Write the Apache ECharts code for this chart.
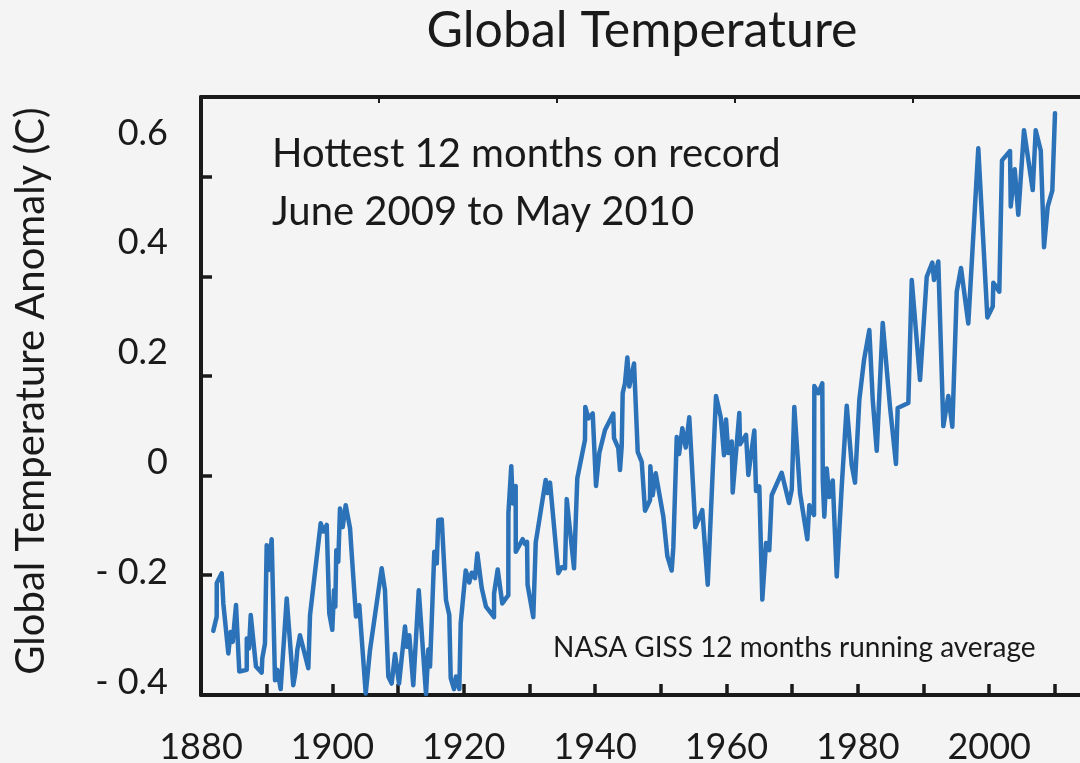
<!DOCTYPE html>
<html>
<head>
<meta charset="utf-8">
<script src="https://cdn.jsdelivr.net/npm/echarts@6/dist/echarts.min.js"></script>
<style>
html,body{margin:0;padding:0;background:#f4f4f4;}
#c{width:1080px;height:763px;}
</style>
</head>
<body>
<div id="c"></div>
<script>
const years = [
1881.87,1882.39,1882.40,1883.15,1883.40,1884.16,1884.52,1884.83,1885.33,1885.83,
1886.96,1886.97,1887.31,1887.57,1888.37,1889.24,1889.33,1889.74,1890.00,1890.25,
1890.76,1891.27,1891.62,1892.13,1893.05,1894.05,1894.36,1894.66,1895.07,1896.34,
1896.60,1898.22,1898.62,1899.14,1899.53,1899.99,1900.25,1900.45,1900.60,1900.90,
1901.16,1901.57,1902.03,1902.69,1902.94,1903.60,1904.10,1905.08,1905.73,1907.51,
1908.01,1908.52,1909.03,1909.54,1910.15,1911.06,1911.32,1911.71,1912.32,1913.15,
1914.26,1914.61,1914.87,1915.52,1915.89,1916.13,1916.65,1917.30,1917.80,1918.02,
1918.52,1918.82,1919.33,1919.54,1920.30,1920.85,1921.21,1921.72,1922.07,1922.74,
1923.39,1924.61,1924.62,1925.17,1925.87,1926.79,1926.80,1927.24,1927.46,1927.91,
1927.92,1928.98,1929.33,1929.64,1929.72,1930.59,1930.96,1932.48,1932.72,1933.14,
1934.40,1934.92,1935.42,1935.68,1936.79,1937.29,1938.46,1938.51,1938.97,1939.64,
1940.14,1940.64,1941.51,1942.77,1942.88,1943.53,1943.79,1944.05,1944.20,1944.55,
1944.91,1945.21,1945.93,1946.49,1947.10,1947.60,1948.36,1948.41,1948.77,1949.23,
1950.39,1951.00,1951.66,1951.91,1952.43,1952.78,1953.28,1953.80,1954.34,1955.26,
1956.32,1957.15,1958.41,1959.13,1959.63,1959.93,1960.28,1960.80,1960.95,1961.96,
1962.06,1962.98,1963.33,1964.24,1964.50,1965.00,1965.46,1966.02,1966.52,1966.89,
1968.41,1969.52,1969.94,1970.33,1971.20,1972.31,1972.62,1973.33,1973.38,1973.98,
1974.59,1974.67,1974.90,1975.26,1975.66,1976.18,1976.79,1977.55,1978.31,1979.07,
1979.57,1980.23,1980.94,1981.75,1982.27,1982.88,1983.79,1984.90,1985.81,1986.07,
1987.69,1988.21,1989.47,1990.49,1991.34,1991.60,1992.25,1993.02,1993.78,1994.39,
1995.06,1995.71,1996.82,1998.34,1999.72,2000.54,2000.63,2001.54,2001.95,2003.17,
2003.28,2003.89,2004.43,2005.30,2006.63,2007.08,2007.85,2008.35,2008.91,2009.61,
2010.02
];
const anomalies = [
-0.306,-0.280,-0.219,-0.201,-0.256,-0.347,-0.308,-0.326,-0.259,-0.380,
-0.377,-0.320,-0.338,-0.277,-0.371,-0.382,-0.356,-0.329,-0.150,-0.195,
-0.139,-0.396,-0.377,-0.412,-0.247,-0.405,-0.383,-0.341,-0.314,-0.374,
-0.277,-0.110,-0.125,-0.113,-0.274,-0.304,-0.232,-0.262,-0.159,-0.180,
-0.083,-0.117,-0.077,-0.119,-0.165,-0.280,-0.259,-0.420,-0.341,-0.192,
-0.232,-0.389,-0.402,-0.348,-0.402,-0.298,-0.335,-0.314,-0.405,-0.232,
-0.421,-0.340,-0.371,-0.162,-0.183,-0.104,-0.103,-0.250,-0.277,-0.392,
-0.412,-0.389,-0.412,-0.292,-0.196,-0.218,-0.200,-0.210,-0.165,-0.228,
-0.262,-0.281,-0.238,-0.194,-0.256,-0.241,-0.092,-0.006,-0.074,-0.042,
-0.162,-0.139,-0.148,-0.144,-0.222,-0.281,-0.145,-0.031,-0.055,-0.036,
-0.201,-0.190,-0.192,-0.066,-0.192,-0.028,0.042,0.102,0.081,0.090,
-0.042,0.018,0.060,0.090,0.045,0.027,-0.013,0.030,0.127,0.145,
0.192,0.139,0.181,0.020,0.002,-0.087,-0.068,-0.006,-0.059,-0.019,
-0.098,-0.170,-0.196,-0.154,0.047,0.016,0.063,0.028,0.083,-0.117,
-0.086,-0.222,0.122,0.083,0.014,0.079,0.018,0.039,-0.054,0.091,
0.034,0.051,-0.022,0.059,-0.051,-0.043,-0.249,-0.146,-0.159,-0.059,
-0.018,-0.073,-0.049,0.102,-0.055,-0.139,-0.077,-0.095,0.140,0.127,
0.145,-0.034,-0.098,-0.010,-0.062,-0.032,-0.207,-0.043,0.104,-0.004,
-0.036,0.115,0.187,0.242,0.115,0.022,0.255,0.102,-0.002,0.100,
0.109,0.333,0.151,0.339,0.365,0.333,0.367,0.067,0.122,0.066,
0.312,0.355,0.254,0.573,0.265,0.285,0.328,0.312,0.551,0.568,
0.467,0.535,0.452,0.606,0.497,0.606,0.569,0.393,0.467,0.496,
0.637
];
const xLabelYears = [1880, 1900, 1920, 1940, 1960, 1980, 2000];
const yTickLabels = [-0.4, -0.2, 0, 0.2, 0.4, 0.6];
const titleText = 'Global Temperature';
const yAxisTitle = 'Global Temperature Anomaly (C)';
const noteLines = ['Hottest 12 months on record', 'June 2009 to May 2010'];
const sourceText = 'NASA GISS 12 months running average';

const FONT = 'Lato';
const INK = '#1a1a1a';
const LINE = '#2b72b8';

const chart = echarts.init(document.getElementById('c'), null, {renderer: 'canvas'});

function fmtY(v) {
  const r = Math.round(v * 10) / 10;
  if (!yTickLabels.some(t => Math.abs(t - r) < 1e-9)) return '';
  if (r === 0) return '0';
  return r < 0 ? '- ' + Math.abs(r).toFixed(1) : r.toFixed(1);
}
function fmtX(v) {
  const r = Math.round(v);
  if (Math.abs(v - r) > 1e-6) return '';
  return xLabelYears.indexOf(r) >= 0 ? String(r) : '';
}

const gridBase = {left: 201, right: -11, outerBoundsMode: 'none', containLabel: false};

const option = {
  animation: false,
  backgroundColor: '#f4f4f4',
  grid: [
    Object.assign({}, gridBase, {top: 97, bottom: 68}),
    Object.assign({}, gridBase, {top: 177, bottom: 188}),
    Object.assign({}, gridBase, {top: 133, bottom: 81})
  ],
  xAxis: [
    {
      gridIndex: 0, type: 'value', position: 'bottom',
      min: 1880, max: 2015.5, interval: 10,
      axisLine: {show: true, onZero: false, lineStyle: {color: INK, width: 4}},
      axisTick: {show: true, inside: true, length: 11, lineStyle: {color: INK, width: 3.5}},
      axisLabel: {show: true, formatter: fmtX, fontFamily: FONT, fontSize: 36, color: INK, margin: 34},
      splitLine: {show: false}
    },
    {
      gridIndex: 0, type: 'value', position: 'top',
      min: 0, max: 5, interval: 1,
      axisLine: {show: true, onZero: false, lineStyle: {color: INK, width: 4}},
      axisTick: {show: true, inside: true, length: 6, lineStyle: {color: INK, width: 2}},
      axisLabel: {show: false},
      splitLine: {show: false}
    },
    {gridIndex: 1, type: 'value', show: false, min: 0, max: 1},
    {gridIndex: 2, type: 'value', show: false, min: 0, max: 1}
  ],
  yAxis: [
    {
      gridIndex: 0, type: 'value', position: 'left',
      min: -0.4228, max: 0.6665,
      axisLine: {show: true, onZero: false, lineStyle: {color: INK, width: 4}},
      axisTick: {show: false},
      axisLabel: {show: false},
      splitLine: {show: false}
    },
    {
      gridIndex: 1, type: 'value', position: 'left',
      min: -0.2, max: 0.6, interval: 0.2,
      axisLine: {show: false, onZero: false},
      axisTick: {show: true, inside: true, length: 11, lineStyle: {color: INK, width: 3.5}},
      axisLabel: {show: false},
      splitLine: {show: false}
    },
    {
      gridIndex: 2, type: 'value', position: 'left',
      min: -0.4, max: 0.6, interval: 0.2,
      axisLine: {show: false, onZero: false},
      axisTick: {show: false},
      axisLabel: {show: true, formatter: fmtY, fontFamily: FONT, fontSize: 36, color: INK, margin: 33},
      splitLine: {show: false}
    }
  ],
  series: [{
    type: 'line',
    xAxisIndex: 0, yAxisIndex: 0,
    data: years.map((y, i) => [y, anomalies[i]]),
    showSymbol: false,
    symbol: 'none',
    lineStyle: {color: LINE, width: 4.5, join: 'round', cap: 'round'},
    silent: true
  }],
  graphic: [
    {type: 'text', x: 642, y: 31, style: {text: titleText, font: '50px ' + FONT, fill: INK, textAlign: 'center', textVerticalAlign: 'middle'}},
    {type: 'text', x: 31, y: 391, rotation: Math.PI / 2, style: {text: yAxisTitle, font: '40px ' + FONT, fill: INK, textAlign: 'center', textVerticalAlign: 'middle'}},
    {type: 'text', x: 272, y: 154, style: {text: noteLines[0], font: '40px ' + FONT, fill: INK, textAlign: 'left', textVerticalAlign: 'middle'}},
    {type: 'text', x: 272, y: 212, style: {text: noteLines[1], font: '40px ' + FONT, fill: INK, textAlign: 'left', textVerticalAlign: 'middle'}},
    {type: 'text', x: 553, y: 648, style: {text: sourceText, font: '28px ' + FONT, fill: INK, textAlign: 'left', textVerticalAlign: 'middle'}}
  ]
};
chart.setOption(option);
</script>
</body>
</html>
